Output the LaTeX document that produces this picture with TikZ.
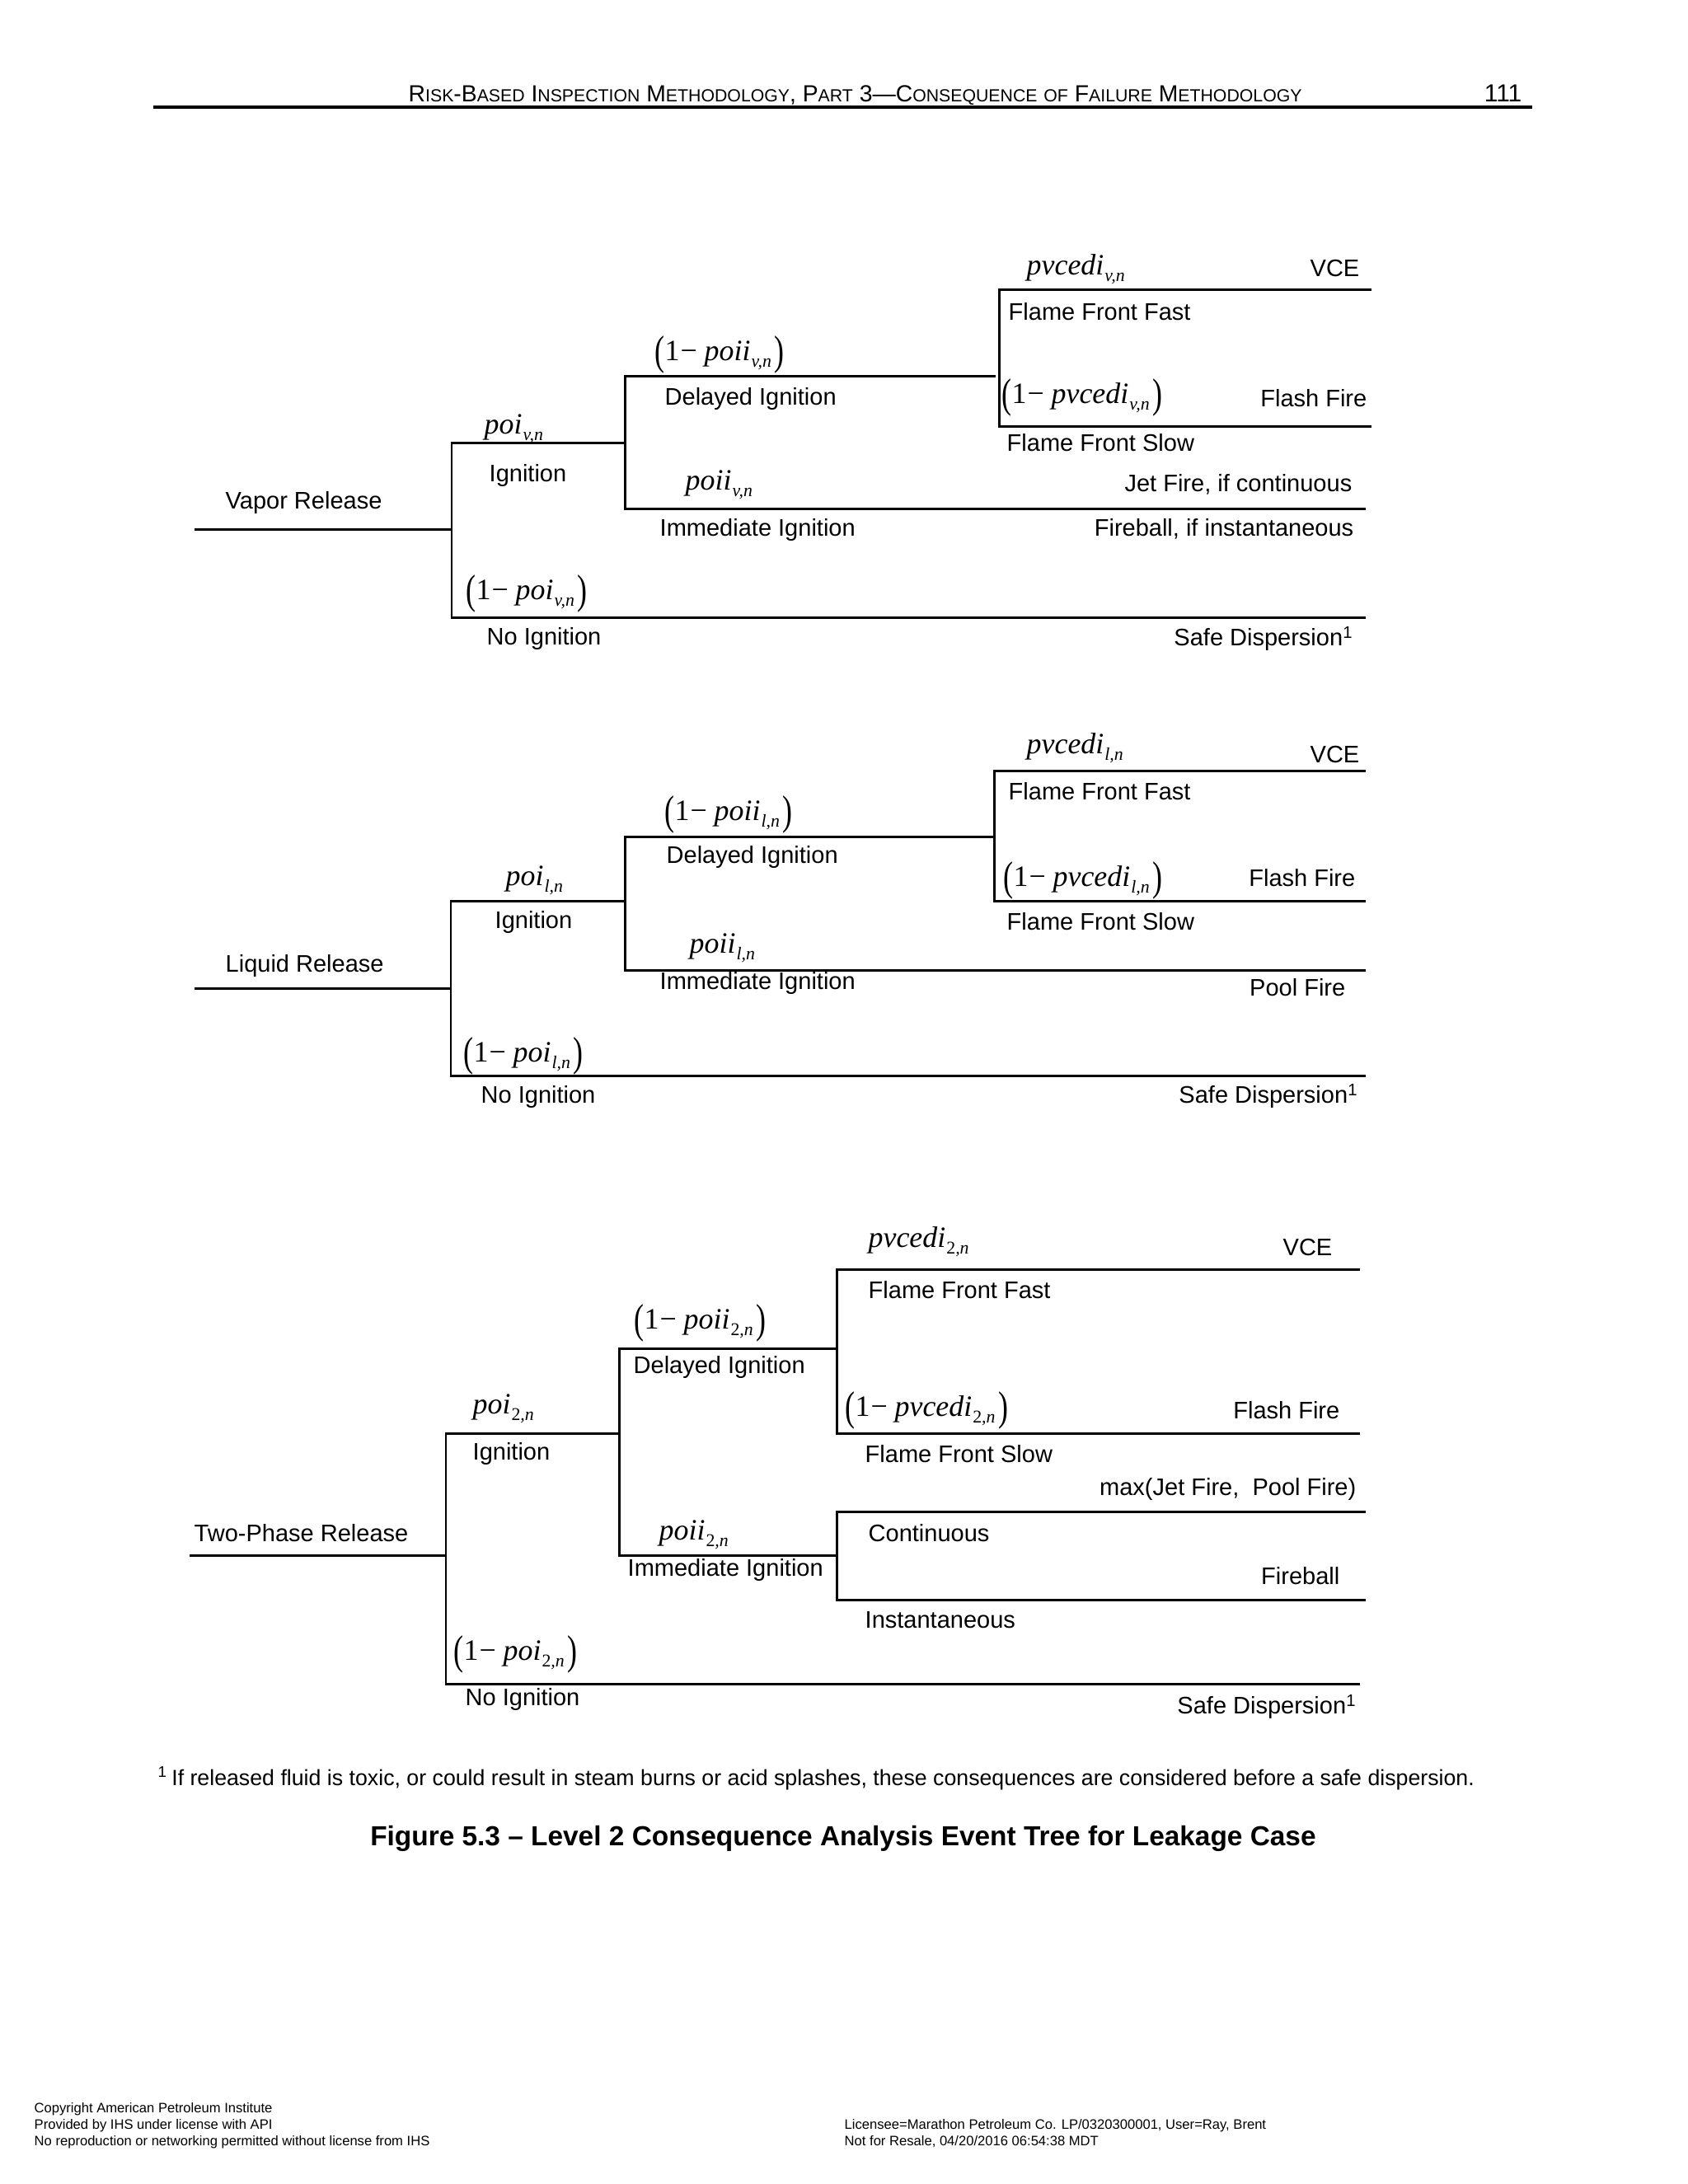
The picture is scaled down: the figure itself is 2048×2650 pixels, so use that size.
\documentclass[tikz,border=0pt]{standalone}
\usepackage{fontspec}
\usepackage{graphicx}
\setmainfont{Liberation Sans}
\newfontfamily\tnr{Liberation Serif}
\newcommand\lpar{\raisebox{-1.2pt}{\scalebox{1}[1.4]{(}}}
\newcommand\rpar{\raisebox{-1.2pt}{\scalebox{1}[1.4]{)}}}
\newcommand\sbx[1]{\raisebox{-2.3pt}{\fontsize{6.2}{7}\selectfont\itshape\kern0.3pt #1}}
\newcommand\mvar[2]{{\tnr\fontsize{10.2}{12}\selectfont{\itshape #1}\sbx{#2}}}
\newcommand\onem[2]{{\tnr\fontsize{10.2}{12}\selectfont\lpar1\kern0.3pt−\kern2.5pt{\itshape #1}\sbx{#2}\kern1pt\rpar}}
\newcommand\hsc[1]{{\fontsize{6.05}{7}\selectfont #1}}
\tikzset{
  lbl/.style={inner sep=0pt, font=\fontsize{8.25}{10}\selectfont},
  lw/.style={anchor=west},
  le/.style={anchor=east},
  br/.style={line width=0.85pt, line cap=rect},
  foot/.style={inner sep=0pt, anchor=base west, font=\fontsize{4.72}{5.5}\selectfont}
}
\begin{document}
\begin{tikzpicture}[x=0.01cm, y=-0.01cm]
\fill[white] (0,0) rectangle (2048,2650);
\useasboundingbox (0,0) rectangle (2048,2650);

% header
\node[inner sep=0pt, anchor=base west, font=\fontsize{8.05}{10}\selectfont] (hdr) at (495,123)
  {R\hsc{ISK}-B\hsc{ASED} I\hsc{NSPECTION} M\hsc{ETHODOLOGY}, P\hsc{ART} 3—C\hsc{ONSEQUENCE} \hsc{OF} F\hsc{AILURE} M\hsc{ETHODOLOGY}};
\node[inner sep=0pt, anchor=base east, font=\fontsize{8.5}{10}\selectfont] (pg) at (1847,123) {111};
\coordinate (hl) at (186,130); \coordinate (hr) at (1859,130);
\draw[line width=1pt] (hl) -- (hr);

% ---------------- Tree 1: Vapor ----------------
\coordinate (a0) at (237,642); \coordinate (a1) at (548,642);
\coordinate (a1t) at (548,537); \coordinate (a1b) at (548,749);
\coordinate (a2) at (758,537); \coordinate (a2t) at (758,456); \coordinate (a2b) at (758,617);
\coordinate (a3) at (1206,456);
\coordinate (a4t) at (1212,351); \coordinate (a4b) at (1212,517);
\coordinate (a4te) at (1662,351); \coordinate (a4be) at (1662,517);
\coordinate (a2be) at (1655,617); \coordinate (a1be) at (1655,749);
\draw[br] (a0) -- (a1);
\draw[br] (a1t) -- (a1b);
\draw[br] (a1t) -- (a2);
\draw[br] (a2t) -- (a2b);
\draw[br] (a2t) -- (a3);
\draw[br] (a4t) -- (a4b);
\draw[br] (a4t) -- (a4te);
\draw[br] (a4b) -- (a4be);
\draw[br] (a2b) -- (a2be);
\draw[br] (a1b) -- (a1be);

\node[lbl,lw] (t1a) at (273,610) {Vapor Release};
\node[lbl,lw] (t1b) at (587,520) {\mvar{poi}{v,n}};
\node[lbl,lw] (t1c) at (593,577) {Ignition};
\node[lbl,lw] (t1d) at (794,430) {\onem{poii}{v,n}};
\node[lbl,lw] (t1e) at (806,484) {Delayed Ignition};
\node[lbl,lw] (t1f) at (831,588) {\mvar{poii}{v,n}};
\node[lbl,lw] (t1g) at (800,643) {Immediate Ignition};
\node[lbl,lw] (t1h) at (565,720) {\onem{poi}{v,n}};
\node[lbl,lw] (t1i) at (590,775) {No Ignition};
\node[lbl,lw] (t1j) at (1245,327) {\mvar{pvcedi}{v,n}};
\node[lbl,le] (t1k) at (1650,325) {VCE};
\node[lbl,lw] (t1l) at (1223,378) {Flame Front Fast};
\node[lbl,lw] (t1m) at (1215,482) {\onem{pvcedi}{v,n}};
\node[lbl,le] (t1n) at (1659,483) {Flash Fire};
\node[lbl,lw] (t1o) at (1221,537) {Flame Front Slow};
\node[lbl,le] (t1p) at (1641,588) {Jet Fire, if continuous};
\node[lbl,le] (t1q) at (1643,642) {Fireball, if instantaneous};
\node[lbl,le] (t1r) at (1643,775) {Safe Dispersion\textsuperscript{1}};

% ---------------- Tree 2: Liquid ----------------
\coordinate (b0) at (237,1199); \coordinate (b1) at (547,1199);
\coordinate (b1t) at (547,1093); \coordinate (b1b) at (547,1305);
\coordinate (b2) at (758,1093); \coordinate (b2t) at (758,1015); \coordinate (b2b) at (758,1177);
\coordinate (b3) at (1206,1015);
\coordinate (b4t) at (1206,935); \coordinate (b4b) at (1206,1093);
\coordinate (b4te) at (1655,935); \coordinate (b4be) at (1655,1093);
\coordinate (b2be) at (1655,1177); \coordinate (b1be) at (1655,1305);
\draw[br] (b0) -- (b1);
\draw[br] (b1t) -- (b1b);
\draw[br] (b1t) -- (b2);
\draw[br] (b2t) -- (b2b);
\draw[br] (b2t) -- (b3);
\draw[br] (b4t) -- (b4b);
\draw[br] (b4t) -- (b4te);
\draw[br] (b4b) -- (b4be);
\draw[br] (b2b) -- (b2be);
\draw[br] (b1b) -- (b1be);

\node[lbl,lw] (t2a) at (273,1172) {Liquid Release};
\node[lbl,lw] (t2b) at (613,1068) {\mvar{poi}{l,n}};
\node[lbl,lw] (t2c) at (600,1119) {Ignition};
\node[lbl,lw] (t2d) at (806,988) {\onem{poii}{l,n}};
\node[lbl,lw] (t2e) at (808,1040) {Delayed Ignition};
\node[lbl,lw] (t2f) at (836,1150) {\mvar{poii}{l,n}};
\node[lbl,lw] (t2g) at (800,1193) {Immediate Ignition};
\node[lbl,lw] (t2h) at (562,1281) {\onem{poi}{l,n}};
\node[lbl,lw] (t2i) at (583,1331) {No Ignition};
\node[lbl,lw] (t2j) at (1245,908) {\mvar{pvcedi}{l,n}};
\node[lbl,le] (t2k) at (1650,915) {VCE};
\node[lbl,lw] (t2l) at (1223,960) {Flame Front Fast};
\node[lbl,lw] (t2m) at (1217,1068) {\onem{pvcedi}{l,n}};
\node[lbl,le] (t2n) at (1645,1065) {Flash Fire};
\node[lbl,lw] (t2o) at (1221,1118) {Flame Front Slow};
\node[lbl,le] (t2p) at (1633,1198) {Pool Fire};
\node[lbl,le] (t2r) at (1649,1330) {Safe Dispersion\textsuperscript{1}};

% ---------------- Tree 3: Two-phase ----------------
\coordinate (c0) at (231,1887); \coordinate (c1) at (541,1887);
\coordinate (c1t) at (541,1739); \coordinate (c1b) at (541,2043);
\coordinate (c2) at (751,1739); \coordinate (c2t) at (751,1636); \coordinate (c2b) at (751,1887);
\coordinate (c3) at (1015,1636);
\coordinate (c4t) at (1015,1540); \coordinate (c4b) at (1015,1739);
\coordinate (c4te) at (1648,1540); \coordinate (c4be) at (1648,1739);
\coordinate (c5) at (1015,1887);
\coordinate (c5t) at (1015,1834); \coordinate (c5b) at (1015,1941);
\coordinate (c5te) at (1655,1834); \coordinate (c5be) at (1655,1941);
\coordinate (c1be) at (1648,2043);
\draw[br] (c0) -- (c1);
\draw[br] (c1t) -- (c1b);
\draw[br] (c1t) -- (c2);
\draw[br] (c2t) -- (c2b);
\draw[br] (c2t) -- (c3);
\draw[br] (c4t) -- (c4b);
\draw[br] (c4t) -- (c4te);
\draw[br] (c4b) -- (c4be);
\draw[br] (c2b) -- (c5);
\draw[br] (c5t) -- (c5b);
\draw[br] (c5t) -- (c5te);
\draw[br] (c5b) -- (c5be);
\draw[br] (c1b) -- (c1be);

\node[lbl,lw] (t3a) at (235,1860) {Two-Phase Release};
\node[lbl,lw] (t3b) at (573,1709) {\mvar{poi}{{\upshape 2},n}};
\node[lbl,lw] (t3c) at (573,1764) {Ignition};
\node[lbl,lw] (t3d) at (769,1605) {\onem{poii}{{\upshape 2},n}};
\node[lbl,lw] (t3e) at (768,1659) {Delayed Ignition};
\node[lbl,lw] (t3f) at (799,1862) {\mvar{poii}{{\upshape 2},n}};
\node[lbl,lw] (t3g) at (761,1905) {Immediate Ignition};
\node[lbl,lw] (t3h) at (550,2007) {\onem{poi}{{\upshape 2},n}};
\node[lbl,lw] (t3i) at (564,2062) {No Ignition};
\node[lbl,lw] (t3j) at (1053,1507) {\mvar{pvcedi}{{\upshape 2},n}};
\node[lbl,le] (t3k) at (1617,1513) {VCE};
\node[lbl,lw] (t3l) at (1053,1565) {Flame Front Fast};
\node[lbl,lw] (t3m) at (1025,1711) {\onem{pvcedi}{{\upshape 2},n}};
\node[lbl,le] (t3n) at (1626,1711) {Flash Fire};
\node[lbl,lw] (t3o) at (1049,1764) {Flame Front Slow};
\node[lbl,le] (t3p) at (1646,1807) {max(Jet Fire, \ Pool Fire)};
\node[lbl,lw] (t3q) at (1053,1860) {Continuous};
\node[lbl,le] (t3s) at (1626,1912) {Fireball};
\node[lbl,lw] (t3t) at (1049,1966) {Instantaneous};
\node[lbl,le] (t3r) at (1647,2071) {Safe Dispersion\textsuperscript{1}};

% footnote and caption
\node[inner sep=0pt, anchor=west, font=\fontsize{7.6}{9}\selectfont] (fn) at (191,2158)
  {\textsuperscript{1}\,If released fluid is toxic, or could result in steam burns or acid splashes, these consequences are considered before a safe dispersion.};
\node[inner sep=0pt, anchor=center, font=\fontsize{9.5}{11}\selectfont\bfseries] (cap) at (1023,2231)
  {Figure 5.3 – Level 2 Consequence Analysis Event Tree for Leakage Case};

% footer
\node[foot] (f1) at (41,2563) {Copyright American Petroleum Institute};
\node[foot] (f2) at (41,2583) {Provided by IHS under license with API};
\node[foot] (f3) at (41,2603) {No reproduction or networking permitted without license from IHS};
\node[foot] (f4) at (1024,2583) {Licensee=Marathon Petroleum Co. LP/0320300001, User=Ray, Brent};
\node[foot] (f5) at (1024,2603) {Not for Resale, 04/20/2016 06:54:38 MDT};
\end{tikzpicture}
\end{document}
